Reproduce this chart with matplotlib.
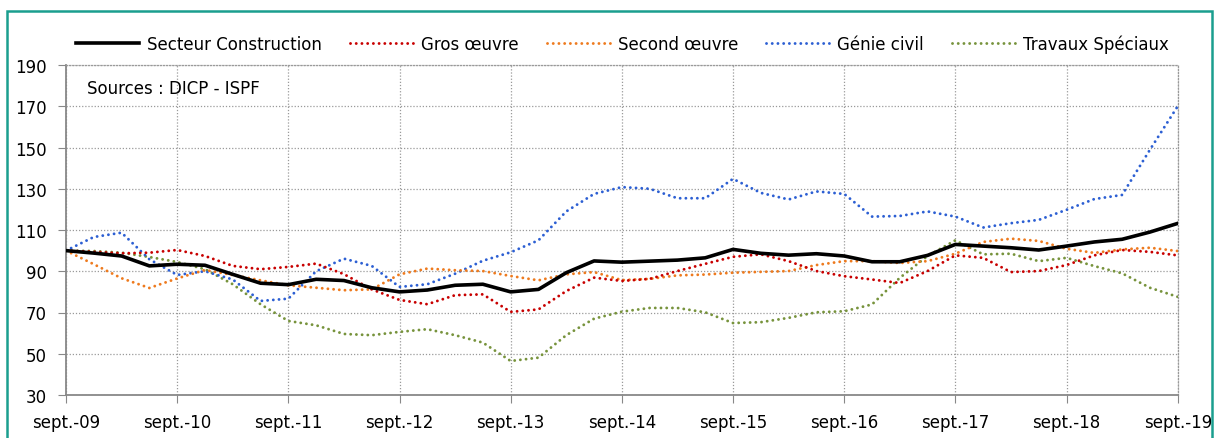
import matplotlib
matplotlib.use("Agg")
import matplotlib.pyplot as plt
from matplotlib.patches import Rectangle
import numpy as np

plt.rcParams['font.family'] = ['DejaVu Sans']

# trimestres de sept. 2009 à sept. 2019
annees = ['sept.-09', 'sept.-10', 'sept.-11', 'sept.-12', 'sept.-13', 'sept.-14',
          'sept.-15', 'sept.-16', 'sept.-17', 'sept.-18', 'sept.-19']

construction = [100, 98.8, 97.4, 92.6, 93.4, 92.9, 88.5, 84.2, 83.5, 86.1, 85.5,
                82, 80, 80.9, 83.2, 83.7, 80, 81.2, 89.3, 95, 94.4,
                94.9, 95.4, 96.5, 100.6, 98.7, 97.8, 98.5, 97.4, 94.6, 94.6,
                97.7, 103, 102.2, 101.4, 100.3, 102.2, 104.2, 105.5, 109, 113.2]
gros_oeuvre = [100, 99.4, 98.7, 99, 100.3, 97.4, 92.6, 91, 92.1, 93.7, 88.6,
               81.2, 76.1, 74, 78.4, 78.8, 70.3, 71.5, 80.4, 86.9, 85.3,
               86.3, 90.1, 93.6, 97, 98.2, 94.9, 90.1, 87.6, 86, 84.3,
               90.1, 97.7, 96.5, 89.6, 90.1, 93, 97.7, 100.3, 99.4, 97.7]
second_oeuvre = [100, 93.4, 86.6, 81.9, 86.5, 90.6, 88.2, 85.6, 83.2, 82, 80.8,
                 81.2, 88.5, 91.3, 90.5, 90.1, 87.7, 85.6, 88.5, 89.6, 85.7,
                 86.3, 88, 88.4, 89.3, 89.7, 90.1, 93, 94.9, 94.9, 94,
                 94.9, 98.5, 104.2, 105.8, 104.7, 100.9, 98.9, 100.6, 101.4, 99.8]
genie_civil = [100, 106.6, 108.7, 95.8, 88.2, 90, 86, 75.6, 76.7, 90, 96.1,
               92.6, 82.4, 83.7, 88.8, 95.1, 99.2, 105, 119, 127.5, 130.8,
               130, 125.4, 125.4, 134.8, 128, 124.8, 128.7, 127.5, 116.5, 116.8,
               119, 116.5, 111.2, 113.3, 114.9, 119.8, 125, 127, 148.9, 170]
travaux_speciaux = [100, 99.8, 99, 96.9, 94.5, 91, 83.7, 74, 65.9, 63.8, 59.6,
                    59, 60.6, 61.9, 59, 55.4, 46.5, 48.1, 59, 67, 70.4,
                    72.2, 72.2, 70.1, 64.9, 65.3, 67.4, 70.1, 70.6, 73.9, 86.8,
                    97.4, 105, 98.2, 98.5, 94.9, 96.5, 92.5, 89, 82, 77.6]

x = np.arange(len(construction))

fig = plt.figure(figsize=(12.18, 4.39), dpi=100)
ax = fig.add_axes([66/1218, 1-396/439, (1177.7-66)/1218, (396-66)/439])

# cadre turquoise autour du graphique
fig.patches.append(Rectangle((7/1218, -0.05), (1212-7)/1218, 1.05-12/439,
                             transform=fig.transFigure, fill=False,
                             edgecolor='#1a9e8f', linewidth=1.8))

pointille = (0, (0.01, 1.95))
ax.plot(x, construction, color='black', lw=2.6, label='Secteur Construction', zorder=6)
ax.plot(x, gros_oeuvre, color='#c80000', lw=2.1, ls=pointille, dash_capstyle='round',
        label='Gros œuvre', zorder=5)
ax.plot(x, second_oeuvre, color='#ee7a1e', lw=2.1, ls=pointille, dash_capstyle='round',
        label='Second œuvre', zorder=4)
ax.plot(x, genie_civil, color='#2c5fd3', lw=2.1, ls=pointille, dash_capstyle='round',
        label='Génie civil', zorder=3)
ax.plot(x, travaux_speciaux, color='#77933c', lw=2.1, ls=pointille, dash_capstyle='round',
        label='Travaux Spéciaux', zorder=2)

ax.set_xlim(0, 40)
ax.set_ylim(30, 190)
ax.set_yticks(range(30, 191, 20))
ax.set_xticks(range(0, 41, 4))
ax.set_xticklabels(annees)
ax.tick_params(axis='both', labelsize=12, direction='out', length=6, color='#888888')
ax.tick_params(axis='y', pad=8)
ax.tick_params(axis='x', pad=7)

ax.grid(True, color='#9a9a9a', linestyle=(0, (1, 1.5)), linewidth=0.9)
for s in ['left', 'bottom']:
    ax.spines[s].set_color('#888888')
    ax.spines[s].set_linewidth(1.3)
for s in ['top', 'right']:
    ax.spines[s].set_color('#9a9a9a')
    ax.spines[s].set_linestyle((0, (1, 1.5)))
    ax.spines[s].set_linewidth(0.9)

ax.text(0.019, 0.93, 'Sources : DICP - ISPF', transform=ax.transAxes,
        fontsize=12, ha='left', va='center')

fig.legend(loc='center', bbox_to_anchor=(0.511, 1-45/439), ncol=5, frameon=False,
           fontsize=12, handlelength=3.8, handletextpad=0.45, columnspacing=1.7)

fig.savefig('out.png', dpi=100)
